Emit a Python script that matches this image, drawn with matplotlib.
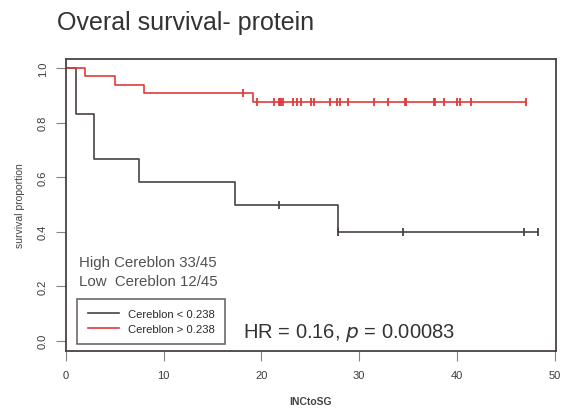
# Kaplan-Meier: overall survival by cereblon protein
import matplotlib.pyplot as plt
import numpy as np

plt.rcParams["font.family"] = ["Liberation Sans", "DejaVu Sans"]

# low cereblon (< 0.238), n = 12
low_t = [0, 1.0, 2.9, 7.5, 17.3, 27.8]
low_s = [1.0, 0.833, 0.667, 0.583, 0.5, 0.4]
low_cens = [21.8, 27.8, 34.5, 46.9, 48.3]

# high cereblon (> 0.238), n = 33
high_t = [0, 1.9, 5.0, 8.0, 19.1]
high_s = [1.0, 0.970, 0.939, 0.909, 0.878]
high_cens = [18.1, 19.5, 21.3, 21.8, 21.9, 22.0, 22.2, 23.2, 23.6, 24.0, 25.1,
             25.4, 27.0, 27.7, 28.0, 28.9, 31.5, 32.9, 34.7, 34.8, 37.6, 37.8,
             38.7, 40.0, 40.3, 41.4, 47.1]

dark = "#4a4242"
red = "#e23a3a"
gray = "#555050"

fig = plt.figure(figsize=(5.61, 4.14), dpi=100)
ax = fig.add_axes([0.1176, 0.150, 0.873, 0.705])


def km(ax, t, s, cens, color, label):
    xs = list(t) + [max(max(cens), t[-1])]
    ys = list(s) + [s[-1]]
    ax.step(xs, ys, where="post", color=color, lw=1.2, label=label)
    cy = [s[np.searchsorted(t, c, side="right") - 1] for c in cens]
    ax.plot(cens, cy, ls="none", marker="|", ms=6, mew=1.3, color=color)


km(ax, low_t, low_s, low_cens, dark, "Cereblon < 0.238")
km(ax, high_t, high_s, high_cens, red, "Cereblon > 0.238")

ax.set_xlim(0, 50.1)
ax.set_ylim(-0.037, 1.034)
ax.set_xticks([0, 10, 20, 30, 40, 50])
ax.set_yticks([0.0, 0.2, 0.4, 0.6, 0.8, 1.0])
ax.set_yticklabels(["0.0", "0.2", "0.4", "0.6", "0.8", "1.0"], rotation=90, va="center")
ax.tick_params(length=7, width=0.8, color="#888080", labelcolor="#3a3a3a", labelsize=8)
ax.tick_params(axis="x", pad=7)
ax.tick_params(axis="y", pad=6)
for sp in ax.spines.values():
    sp.set_color(dark)
    sp.set_linewidth(1.3)

ax.set_xlabel("INCtoSG", fontsize=7.5, color="#444", fontweight="bold", labelpad=11)
ax.set_ylabel("survival proportion", fontsize=7.5, color="#444", labelpad=9)

fig.text(0.102, 0.945, "Overal survival- protein", fontsize=18, color="#333", va="center")

ax.text(0.0275, 0.304, "High Cereblon 33/45", transform=ax.transAxes, fontsize=10.8, color=gray, va="center")
ax.text(0.0275, 0.241, "Low  Cereblon 12/45", transform=ax.transAxes, fontsize=10.8, color=gray, va="center")
ax.text(0.361, 0.066, "HR = 0.16, $\\it{p}$ = 0.00083", transform=ax.transAxes,
        fontsize=14.5, color="#333", va="center")

leg = ax.legend(loc="lower left", bbox_to_anchor=(0.012, 0.004), fontsize=8.1, frameon=True,
                fancybox=False, edgecolor=dark, handlelength=2.8, borderpad=0.9,
                labelspacing=0.45, handletextpad=0.8)
leg.get_frame().set_linewidth(1.2)
for txt in leg.get_texts():
    txt.set_color("#2a2a2a")

fig.savefig("out.png", dpi=100)
